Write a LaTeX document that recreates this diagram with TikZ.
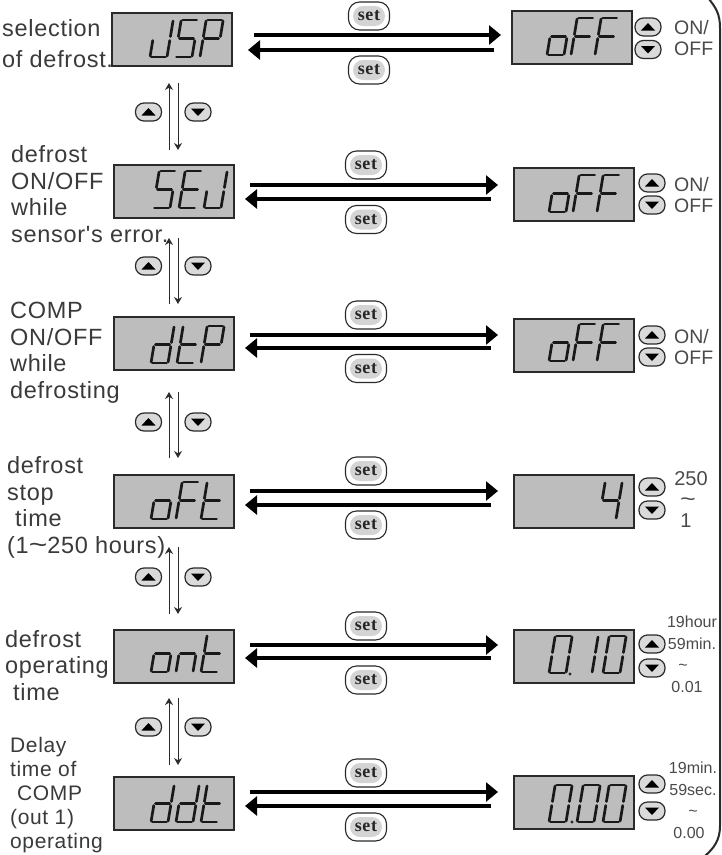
\documentclass[tikz,border=0pt]{standalone}
\usepackage{graphicx}
\usepackage{fontspec}
\setmainfont{Liberation Sans}
\newfontfamily\setfont[LetterSpace=4]{Liberation Serif}
\newfontfamily\spacedsans[LetterSpace=3]{Liberation Sans}
\usetikzlibrary{arrows.meta,shapes.misc}
\definecolor{lcdgray}{HTML}{BDBDBD}
\definecolor{inkdark}{HTML}{2A2A2A}
\definecolor{labelink}{HTML}{3A3A3A}
\definecolor{sidelabel}{HTML}{4A4A4A}
\definecolor{keyfill}{HTML}{DADADA}
\newcommand\widetil{\scalebox{1.35}[1.1]{\textasciitilde}}
\tikzset{
  x=1pt,y=-1pt,
  lcdbox/.style={draw=inkdark,line width=2pt,fill=lcdgray,minimum width=120pt,minimum height=53pt,inner sep=0pt,outer sep=0pt,anchor=north west},
  segline/.style={draw=black!90,line width=2.7pt,line cap=round},
  label text/.style={anchor=base west,inner sep=0pt,align=left,text=labelink},
  big label/.style={label text,font=\spacedsans\fontsize{23.5}{26.5}\selectfont},
  side label/.style={anchor=base west,inner sep=0pt,align=left,text=sidelabel,font=\fontsize{19.5}{21}\selectfont},
  small label/.style={anchor=base,inner sep=0pt,align=center,text=sidelabel,font=\fontsize{16}{21.5}\selectfont},
  keybtn/.style={draw=inkdark,line width=1.2pt,fill=keyfill,rounded corners=8.5pt,minimum width=26pt,minimum height=18pt,inner sep=0pt},
  setouter/.style={draw=inkdark,line width=1.1pt,fill=white,rounded corners=11pt,minimum width=41pt,minimum height=28pt,inner sep=0pt},
  setinner/.style={fill=black!17,rounded rectangle,minimum width=32pt,minimum height=20pt,inner sep=0pt,font=\setfont\bfseries\fontsize{18}{18}\selectfont,text=black!85},
  thick arrow/.style={line width=3.2pt,draw=black,-{Triangle[length=12pt,width=19pt]}},
  thin arrow/.style={line width=1pt,draw=inkdark,-{Stealth[length=7pt,width=8pt]}},
}
\def\sega{(1.5,-37)--(15.5,-37)}
\def\segf{(0,-36)--(0,-20.5)}
\def\segb{(17,-36)--(17,-20.5)}
\def\segg{(1.5,-18.5)--(15.5,-18.5)}
\def\sege{(0,-16.5)--(0,-1)}
\def\segc{(17,-16.5)--(17,-1)}
\def\segd{(1.5,0)--(15.5,0)}
\newcommand\sevenseg[3]{\begin{scope}[shift={(#1,#2)},xslant=.167]
  \foreach\s in {#3}{\expandafter\let\expandafter\segpath\csname seg\s\endcsname
    \draw[segline] \segpath;}\end{scope}}
\newcommand\glyphJ[2]{\sevenseg{#1}{#2}{b,c,d,e}}
\newcommand\glyphS[2]{\sevenseg{#1}{#2}{a,f,g,c,d}}
\newcommand\glyphP[2]{\sevenseg{#1}{#2}{a,b,f,g,e}}
\newcommand\glyphE[2]{\sevenseg{#1}{#2}{a,f,g,e,d}}
\newcommand\glypho[2]{\sevenseg{#1}{#2}{g,c,d,e}}
\newcommand\glyphF[2]{\sevenseg{#1}{#2}{a,f,g,e}}
\newcommand\glyphd[2]{\sevenseg{#1}{#2}{b,c,d,e,g}}
\newcommand\glypht[2]{\sevenseg{#1}{#2}{f,g,e,d}}
\newcommand\glyphn[2]{\sevenseg{#1}{#2}{e,g,c}}
\newcommand\glyphfour[2]{\sevenseg{#1}{#2}{f,g,b,c}}
\newcommand\glyphzero[2]{\sevenseg{#1}{#2}{a,b,c,d,e,f}}
\newcommand\glyphone[2]{\sevenseg{#1}{#2}{b,c}}
% up / down keys
\newcommand\upkey[3]{\node[keybtn] (#1) at (#2,#3) {};
  \fill[black] ([shift={(-7,3.5)}]#1.center) -- ([shift={(7,3.5)}]#1.center) -- ([shift={(0,-4)}]#1.center) -- cycle;}
\newcommand\downkey[3]{\node[keybtn] (#1) at (#2,#3) {};
  \fill[black] ([shift={(-7,-3.5)}]#1.center) -- ([shift={(7,-3.5)}]#1.center) -- ([shift={(0,4)}]#1.center) -- cycle;}
\newcommand\setkey[3]{\node[setouter] (#1) at (#2,#3) {};
  \node[setinner] (#1t) at (#2,#3) {set};}
% horizontal exchange: name, right-tip x, left-start..., ys
\newcommand\exchange[7]{%
  \coordinate (#1fs) at (#2,#6); \coordinate (#1fe) at (#3,#6);
  \coordinate (#1bs) at (#4,#7); \coordinate (#1be) at (#5,#7);
  \draw[thick arrow] (#1fs) -- (#1fe);
  \draw[thick arrow] (#1bs) -- (#1be);}
% vertical exchange: name, top y, bottom y, key y
\newcommand\vexchange[4]{%
  \coordinate (#1ub) at (169,#3); \coordinate (#1ut) at (169,#2);
  \coordinate (#1dt) at (178,#2); \coordinate (#1db) at (178,#3);
  \draw[thin arrow] (#1ub) -- (#1ut);
  \draw[thin arrow] (#1dt) -- (#1db);
  \upkey{#1up}{148.5}{#4}
  \downkey{#1dn}{198}{#4}}
\begin{document}
\begin{tikzpicture}
\useasboundingbox (0,0) rectangle (722,855);
% outer bracket
\draw[line width=2pt,draw=inkdark] (709,-1) .. controls (716,8) and (720,14) .. (720,28) -- (720,826) .. controls (720,840) and (714,848) .. (705,856);

% left labels
\node[big label] (t1) at (2,67) {selection\\[4.5pt]of defrost.};
\node[big label] (t2) at (11,242) {defrost\\ON/OFF\\while\\sensor's error.};
\node[big label] (t3) at (10,398) {COMP\\ON/OFF\\while\\defrosting};
\node[big label] (t4) at (7,553) {defrost\\stop\\\hspace*{8pt}time\\(1\widetil 250 hours)};
\node[big label] (t5) at (5,700) {defrost\\operating\\\hspace*{8pt}time};
\node[label text,font=\spacedsans\fontsize{21}{24}\selectfont] (t6) at (10,848) {Delay\\time of\\\hspace*{7pt}COMP\\(out 1)\\operating};

% displays left
\node[lcdbox] (L1) at (111.5,12.5) {};
\node[lcdbox] (L2) at (113.5,165) {};
\node[lcdbox] (L3) at (113.5,317) {};
\node[lcdbox] (L4) at (113.5,474.5) {};
\node[lcdbox] (L5) at (113.5,629.5) {};
\node[lcdbox] (L6) at (113.5,776.5) {};
\glyphJ{150}{57}\glyphS{175}{57}\glyphP{200}{57}
\glyphS{153}{208}\glyphE{179}{208}\glyphJ{204}{208}
\glyphd{151}{363}\glypht{177}{363}\glyphP{201}{363}
\glypho{151}{519}\glyphF{176}{519}\glypht{201}{519}
\glypho{151}{672}\glyphn{176}{672}\glypht{201}{672}
\glyphd{151}{822}\glyphd{176}{822}\glypht{201}{822}

% displays right
\node[lcdbox] (R1) at (511.5,10.5) {};
\node[lcdbox] (R2) at (513.5,167.5) {};
\node[lcdbox] (R3) at (513.5,318.5) {};
\node[lcdbox] (R4) at (513.5,474.5) {};
\node[lcdbox] (R5) at (513.5,629.5) {};
\node[lcdbox] (R6) at (513.5,775.5) {};
\glypho{547}{55}\glyphF{571}{55}\glyphF{595}{55}
\glypho{549}{212}\glyphF{573}{212}\glyphF{597}{212}
\glypho{549}{361}\glyphF{573}{361}\glyphF{597}{361}
\glyphfour{599}{519}
\glyphzero{549}{673}\glyphone{575}{673}\glyphzero{603}{673}
\fill[black!85] (570,674) circle (1.6);
\glyphzero{549}{822}\glyphzero{577}{822}\glyphzero{603}{822}
\fill[black!85] (572,822) circle (1.6);

% set keys
\setkey{s1a}{369}{16}\setkey{s1b}{369}{70}
\setkey{s2a}{366}{165}\setkey{s2b}{366}{219.5}
\setkey{s3a}{366}{315}\setkey{s3b}{366}{368.5}
\setkey{s4a}{366}{471}\setkey{s4b}{366}{525}
\setkey{s5a}{366}{626}\setkey{s5b}{366}{680}
\setkey{s6a}{366}{773}\setkey{s6b}{366}{827}

% horizontal arrows
\exchange{h1}{254}{501}{494}{248}{35}{50}
\exchange{h2}{250}{498}{491}{245}{185}{199}
\exchange{h3}{250}{498}{491}{245}{335}{348}
\exchange{h4}{250}{498}{491}{245}{491}{505}
\exchange{h5}{250}{498}{491}{245}{645}{658}
\exchange{h6}{250}{498}{491}{245}{792}{806}

% vertical arrows
\vexchange{v1}{83}{150}{112}
\vexchange{v2}{238}{304}{266}
\vexchange{v3}{392}{458}{422}
\vexchange{v4}{547}{614}{577}
\vexchange{v5}{698}{765}{727}

% side keys
\upkey{k1u}{648}{27}\downkey{k1d}{648}{49.5}
\upkey{k2u}{652}{183}\downkey{k2d}{652}{205}
\upkey{k3u}{652}{335}\downkey{k3d}{652}{357}
\upkey{k4u}{652}{487}\downkey{k4d}{652}{510}
\upkey{k5u}{652}{644}\downkey{k5d}{652}{668}
\upkey{k6u}{652}{784}\downkey{k6d}{652}{811}

% side labels
\node[side label] (o1) at (674,55) {ON/\\OFF};
\node[side label] (o2) at (674,212) {ON/\\OFF};
\node[side label] (o3) at (674,364) {ON/\\OFF};
\node[small label,font=\fontsize{20}{21}\selectfont] (o4) at (691,527) {250\\\hspace*{-6pt}\widetil\\\hspace*{-10pt}1};
\node[small label] (o5) at (692,692) {19hour\\59min.\\\hspace*{-18pt}\textasciitilde\\\hspace*{-10pt}0.01};
\node[small label] (o6) at (693,838) {19min.\\59sec.\\\textasciitilde\\\hspace*{-8pt}0.00};
\end{tikzpicture}
\end{document}
